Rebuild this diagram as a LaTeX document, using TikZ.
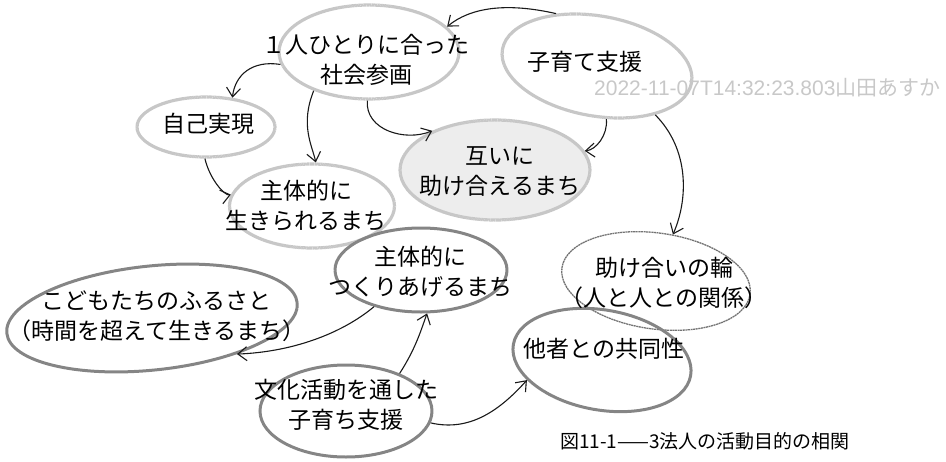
\documentclass[tikz,border=0pt]{standalone}
\usepackage{fontspec}
\setmainfont{Noto Sans CJK JP}
\newfontfamily\wmfont{Liberation Sans}
\usetikzlibrary{arrows.meta,shapes.geometric}
\definecolor{wmgray}{RGB}{200,200,200}
\begin{document}
\begin{tikzpicture}[x=1pt,y=-1pt,
  ring/.style={ellipse, inner sep=0pt},
  light/.style={draw=black!22, line width=3.2pt, dash pattern=on 0.8pt off 0.3pt},
  dark/.style={draw=black!48, line width=3pt, dash pattern=on 1.2pt off 0.2pt},
  thinring/.style={draw=black!55, line width=1.3pt, dash pattern=on 2pt off 0.6pt},
  lbl/.style={align=center, inner sep=0pt, font=\fontsize{23}{30}\selectfont},
  conn/.style={draw=black!90, line width=1.1pt, -{Straight Barb[length=9pt,width=14pt]}}
]
\useasboundingbox (0,0) rectangle (946,461);

% ellipses
\node[ring, light, minimum width=180, minimum height=94] (e1) at (369,52) {};
\node[ring, light, minimum width=192, minimum height=100, rotate=-10] (e2) at (597,66) {};
\node[ring, light, minimum width=138, minimum height=60] (e3) at (206,127) {};
\node[ring, light, minimum width=165, minimum height=84] (e4) at (312,206) {};
\node[ring, light, fill=black!7, minimum width=190, minimum height=100] (e5) at (495,170) {};
\node[ring, dark, minimum width=172, minimum height=84] (e6) at (421,270) {};
\node[ring, dark, minimum width=292, minimum height=104, rotate=6] (e7) at (152,318) {};
\node[ring, thinring, minimum width=190, minimum height=96, rotate=-8] (e8) at (656,281) {};
\node[ring, dark, minimum width=180, minimum height=100, rotate=-10] (e9) at (602,360) {};
\node[ring, dark, minimum width=172, minimum height=92] (e10) at (346,411) {};

% labels
\node[lbl] (t1) at (366,60) {１人ひとりに合った\\社会参画};
\node[lbl] (t2) at (585,62) {子育て支援};
\node[lbl] (t3) at (208,124) {自己実現};
\node[lbl] (t4) at (306,206) {主体的に\\生きられるまち};
\node[lbl] (t5) at (500,172) {互いに\\助け合えるまち};
\node[lbl] (t6) at (420,272) {主体的に\\つくりあげるまち};
\node[lbl] (t7) at (157,316) {こどもたちのふるさと\\（時間を超えて生きるまち）};
\node[lbl] (t8) at (664,283) {助け合いの輪\\（人と人との関係）};
\node[lbl] (t9) at (604,349) {他者との共同性};
\node[lbl] (t10) at (346,405) {文化活動を通した\\子育ち支援};

% watermark and caption
\node[anchor=west, inner sep=0pt, text=wmgray, font=\fontsize{21}{24}\selectfont] (wm) at (594,88) {{\wmfont 2022-11-07T14:32:23.803}山田あすか};
\node[anchor=west, inner sep=0pt, font=\fontsize{19}{22}\selectfont] (cap) at (560,441) {図11-1——3法人の活動目的の相関};

% connectors
\draw[conn] (e2.138) .. controls (505,2) and (470,8) .. (e1.18);
\draw[conn] (e1.188) .. controls (252,60) and (235,75) .. (e3.48);
\draw[conn] (e1.215) .. controls (300,125) and (312,145) .. (e4.85);
\draw[conn] (e1.268) .. controls (365,130) and (405,142) .. (e5.148);
\draw[conn] (e3.268) .. controls (210,180) and (225,196) .. (e4.172);
\draw[conn] (e2.-70) .. controls (608,135) and (596,150) .. (e5.12);
\draw[conn] (e2.-30) .. controls (690,150) and (688,200) .. (e8.78);
\draw[conn] (e10.35) .. controls (416,348) and (421,330) .. (e6.-82);
\draw[conn] (e6.218) .. controls (340,335) and (290,352) .. (e7.-29);
\draw[conn] (e10.-8) .. controls (470,432) and (500,410) .. (e9.205);
\end{tikzpicture}
\end{document}
